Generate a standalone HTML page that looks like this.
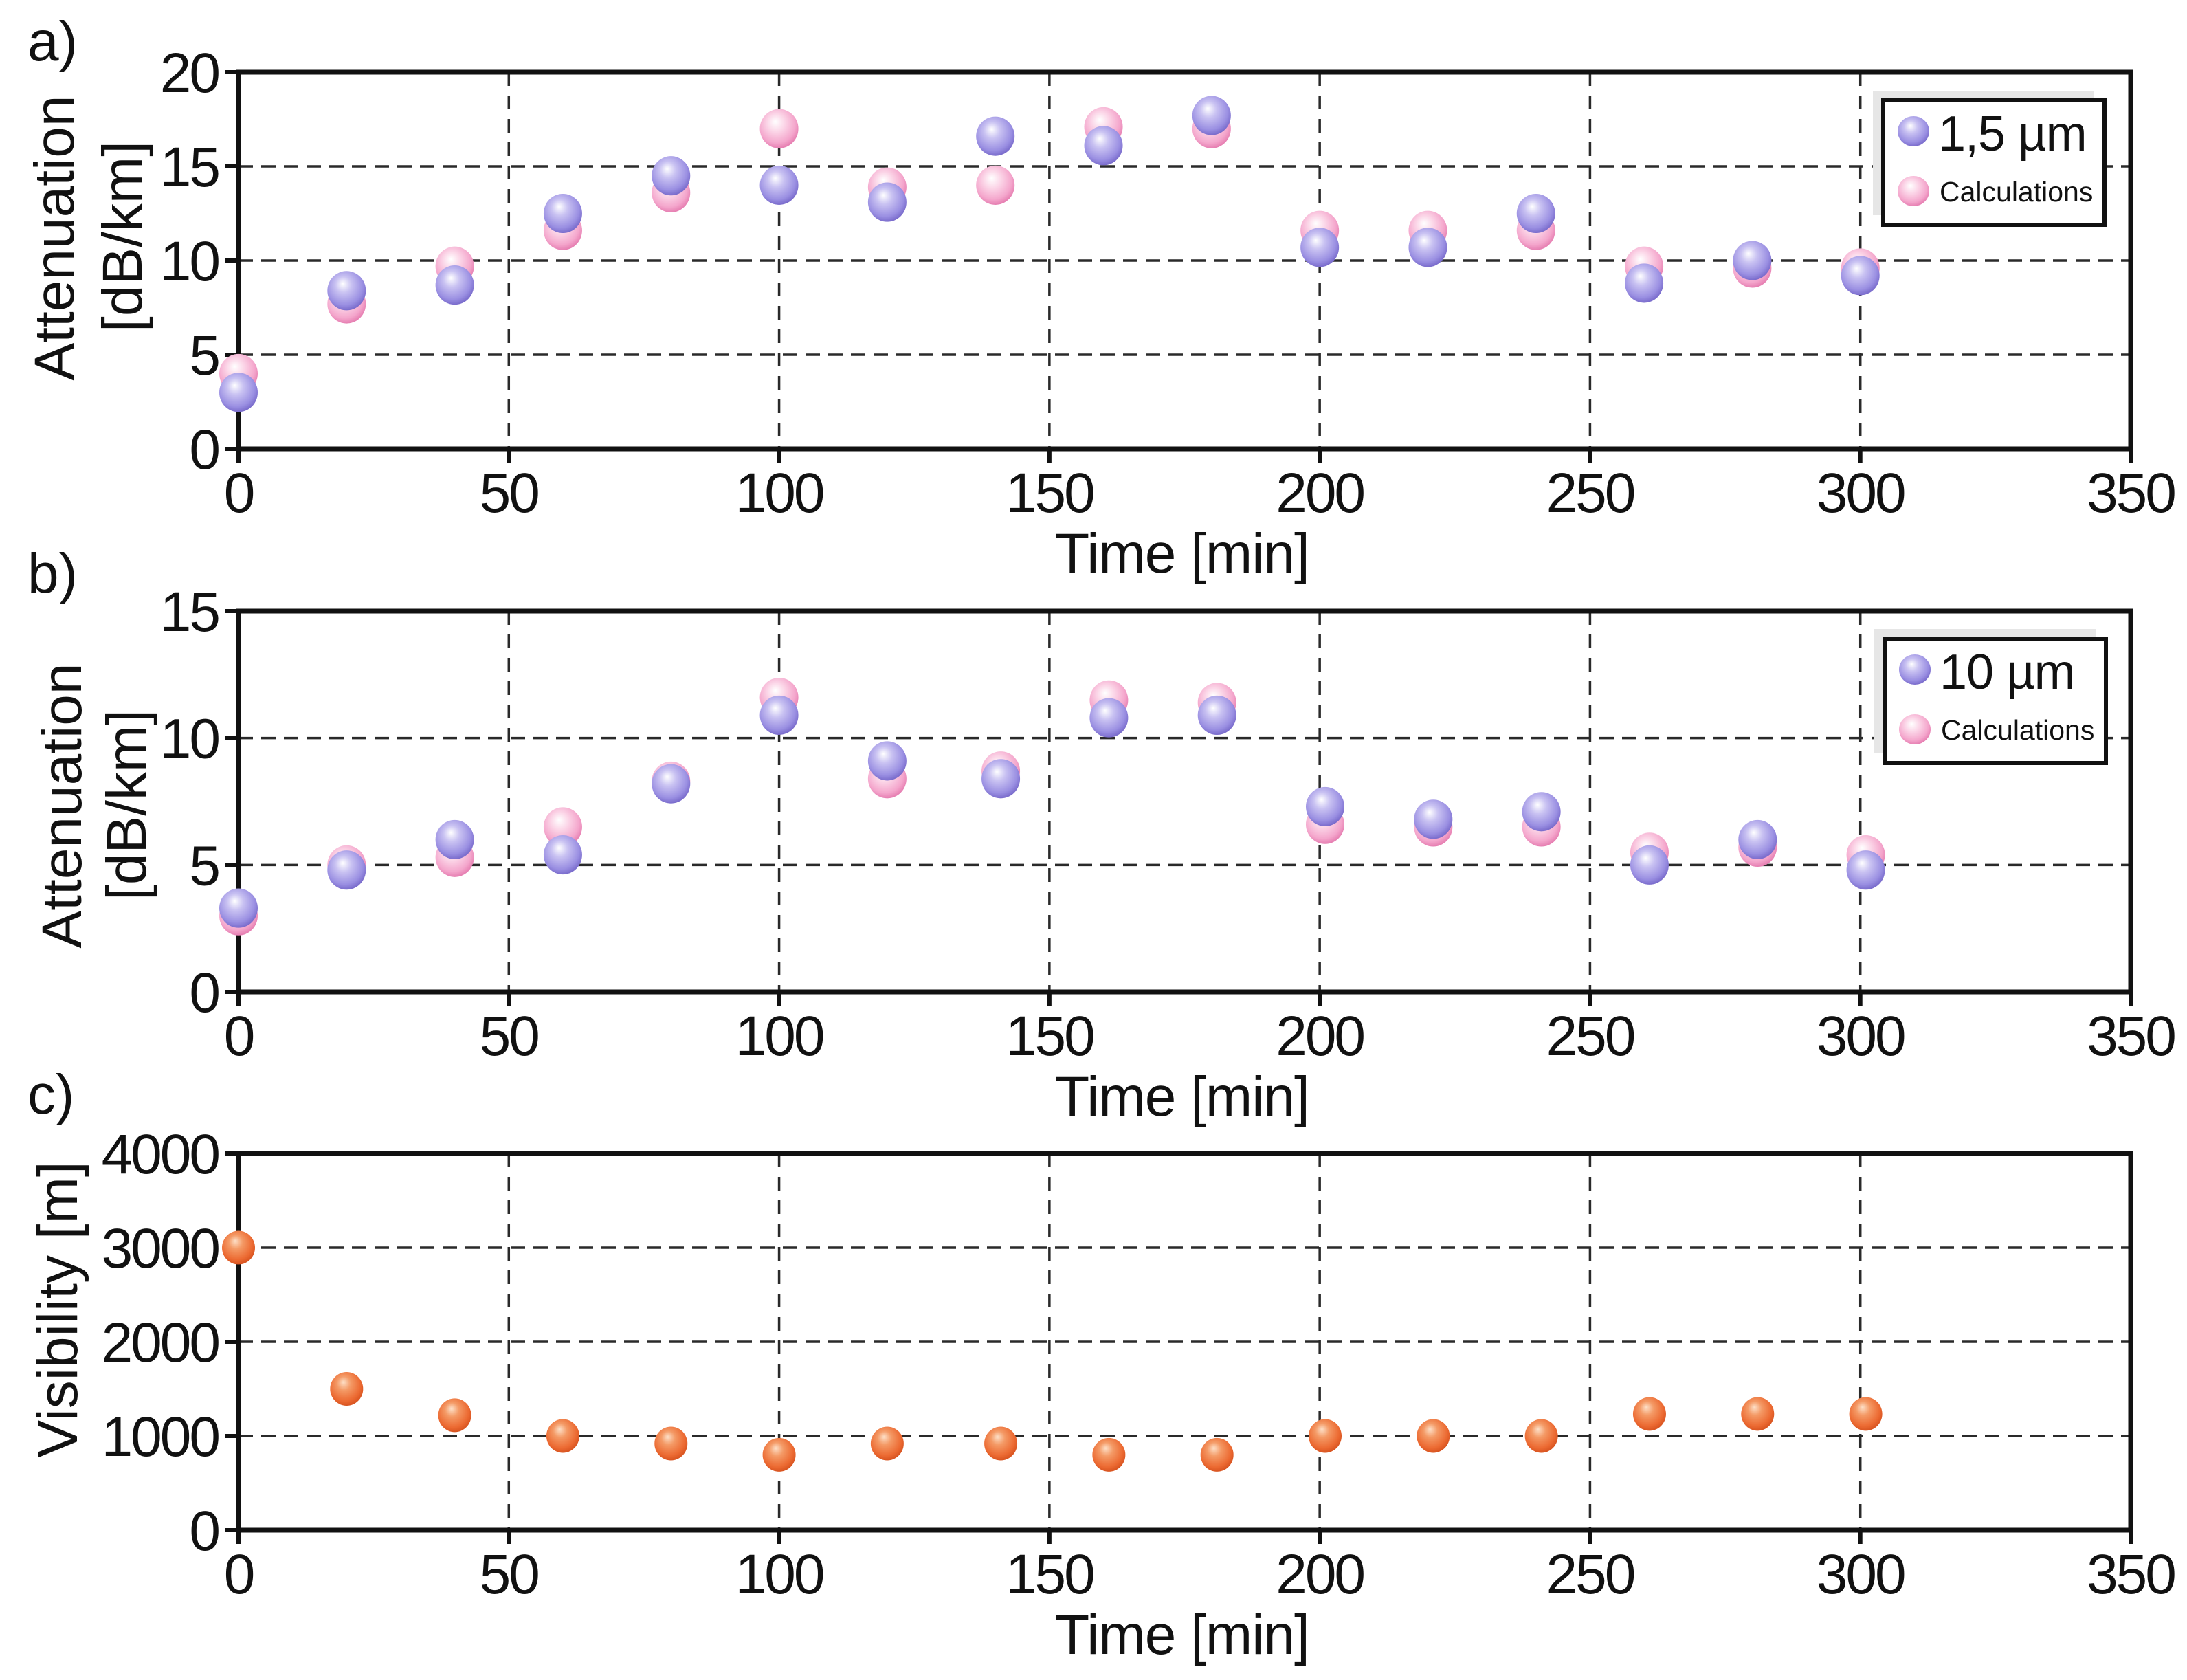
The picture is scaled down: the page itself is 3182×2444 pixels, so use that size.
<!DOCTYPE html>
<html><head><meta charset="utf-8"><style>
html,body{margin:0;padding:0;background:#fff;}
svg{display:block;font-family:"Liberation Sans",Arial,sans-serif;}
</style></head><body>
<svg id="chart" width="3182" height="2444" viewBox="0 0 3182 2444" xmlns="http://www.w3.org/2000/svg">
<defs>
<radialGradient id="gBlue" cx="0.45" cy="0.4" r="0.6" fx="0.4" fy="0.32">
<stop offset="0" stop-color="#ffffff"/><stop offset="0.35" stop-color="#c9c2f2"/><stop offset="0.8" stop-color="#9a8fe2"/><stop offset="1" stop-color="#7a6ccc"/></radialGradient>
<radialGradient id="gPink" cx="0.45" cy="0.4" r="0.6" fx="0.4" fy="0.32">
<stop offset="0" stop-color="#ffffff"/><stop offset="0.4" stop-color="#fbd3e6"/><stop offset="0.8" stop-color="#f4a6cc"/><stop offset="1" stop-color="#e67fb2"/></radialGradient>
<radialGradient id="gOrange" cx="0.45" cy="0.4" r="0.6" fx="0.4" fy="0.3">
<stop offset="0" stop-color="#fde0c8"/><stop offset="0.35" stop-color="#f49a66"/><stop offset="0.8" stop-color="#ec6a32"/><stop offset="1" stop-color="#d85420"/></radialGradient>
</defs>
</svg>
<script>
const timesA = [0,20,40,60,80,100,120,140,160,180,200,220,240,260,280,300];
const blueA  = [3.0,8.4,8.7,12.5,14.5,14.0,13.1,16.6,16.1,17.7,10.7,10.7,12.5,8.8,10.0,9.2];
const pinkA  = [4.0,7.7,9.7,11.6,13.6,17.0,13.9,14.0,17.1,17.0,11.6,11.6,11.6,9.7,9.6,9.6];
const timesB = [0,20,40,60,80,100,120,141,161,181,201,221,241,261,281,301];
const blueB  = [3.3,4.8,6.0,5.4,8.2,10.9,9.1,8.4,10.8,10.9,7.3,6.8,7.1,5.0,6.0,4.8];
const pinkB  = [3.0,5.0,5.3,6.5,8.3,11.6,8.4,8.7,11.5,11.4,6.6,6.5,6.5,5.5,5.7,5.4];
const timesC = [0,20,40,60,80,100,120,141,161,181,201,221,241,261,281,301];
const visC   = [3000,1500,1220,1000,920,800,920,920,800,800,1000,1000,1000,1234,1234,1234];
const xTicks = [0,50,100,150,200,250,300,350];
const yTicksA = [0,5,10,15,20];
const yTicksB = [0,5,10,15];
const yTicksC = [0,1000,2000,3000,4000];

const NS="http://www.w3.org/2000/svg";
const svg=document.getElementById('chart');
const X0=347, X1=3100, XMAX=350;
function xs(v){return X0+(v/XMAX)*(X1-X0);}
function mk(tag,attrs,parent){const e=document.createElementNS(NS,tag);for(const k in attrs)e.setAttribute(k,attrs[k]);(parent||svg).appendChild(e);return e;}

function panel(o){
  const g=mk('g',{});
  
  
  const ys=v=>o.bot-(v/o.ymax)*(o.bot-o.top);
  xTicks.forEach(t=>{ if(t>0&&t<XMAX){const l=mk('line',{x1:xs(t),x2:xs(t),y1:o.top,y2:o.bot,stroke:'#2a2a2a','stroke-width':3.5,'stroke-dasharray':'20 14'},g);
    
    }});
  o.yticks.forEach(t=>{ if(t>0&&t<o.ymax){const l=mk('line',{x1:X0,x2:X1,y1:ys(t),y2:ys(t),stroke:'#2a2a2a','stroke-width':3.5,'stroke-dasharray':'21 12'},g);
    
    }});
  const fr=mk('rect',{x:X0,y:o.top,width:X1-X0,height:o.bot-o.top,fill:'none',stroke:'#111','stroke-width':7},g);
  
  
  xTicks.forEach(t=>{
    mk('line',{x1:xs(t),x2:xs(t),y1:o.bot,y2:o.bot+20,stroke:'#111','stroke-width':6},g);
    const tx=mk('text',{x:xs(t),y:o.bot+92,'font-size':82,'text-anchor':'middle',fill:'#111','letter-spacing':'-3'},g);
    tx.textContent=t;
    
    
  });
  o.yticks.forEach(t=>{
    mk('line',{x1:X0-20,x2:X0,y1:ys(t),y2:ys(t),stroke:'#111','stroke-width':6},g);
    const tx=mk('text',{x:318,y:ys(t)+29,'font-size':82,'text-anchor':'end',fill:'#111','letter-spacing':'-3'},g);
    tx.textContent=t;
    
    
  });
  const xt=mk('text',{x:1720,y:o.bot+180,'font-size':82,'text-anchor':'middle',fill:'#111','letter-spacing':'-1'},g);
  xt.textContent='Time [min]';
  
  
  o.ytitle.forEach(yt=>{
    const t=mk('text',{x:0,y:0,'font-size':82,'text-anchor':'middle',fill:'#111',transform:`translate(${yt.x},${yt.cy}) rotate(-90)`},g);
    t.textContent=yt.text;
    
    
  });
  const pl=mk('text',{x:40,y:o.labelY,'font-size':82,fill:'#111'},g);
  pl.textContent=o.label;
  
  
  o.series.forEach(s=>{
    s.vals.forEach((v,i)=>{
      const c=mk('ellipse',{cx:xs(s.xs[i]),cy:ys(v),rx:s.r,ry:s.r*1.02,fill:s.fill},g);
      
      
    });
  });
  if(o.legend){
    const L=o.legend, lg=mk('g',{},g);
    
    
    mk('rect',{x:L.x-15,y:L.y-14,width:L.w,height:L.h,fill:'#e6e6e6'},lg);
    mk('rect',{x:L.x,y:L.y,width:L.w,height:L.h,fill:'#fff',stroke:'#111','stroke-width':6},lg);
    const m1=mk('ellipse',{cx:L.x+44,cy:L.y+45,rx:23,ry:22,fill:'url(#gBlue)'},lg);
    
    
    const t1=mk('text',{x:L.x+80,y:L.y+73,'font-size':72,fill:'#111','letter-spacing':'-1'},lg);
    t1.textContent=L.text;
    
    
    const m2=mk('ellipse',{cx:L.x+44,cy:L.y+132,rx:23,ry:22,fill:'url(#gPink)'},lg);
    
    
    const t2=mk('text',{x:L.x+82,y:L.y+147,'font-size':41,fill:'#111'},lg);
    t2.textContent='Calculations';
    
    
  }
}

panel({name:'panel-a',top:105,bot:653,ymax:20,yticks:yTicksA,label:'a)',labelY:88,
  ytitle:[{text:'Attenuation',x:107,cy:346},{text:'[dB/km]',x:206,cy:344}],
  series:[{xs:timesA,vals:pinkA,fill:'url(#gPink)',r:28,pname:'point-calculations'},{xs:timesA,vals:blueA,fill:'url(#gBlue)',r:28,pname:'point-1-5um'}],
  legend:{x:2740,y:146,w:322,h:181,text:'1,5 \u00b5m'}});
panel({name:'panel-b',top:889,bot:1443,ymax:15,yticks:yTicksB,label:'b)',labelY:862,
  ytitle:[{text:'Attenuation',x:118,cy:1172},{text:'[dB/km]',x:212,cy:1171}],
  series:[{xs:timesB,vals:pinkB,fill:'url(#gPink)',r:28,pname:'point-calculations'},{xs:timesB,vals:blueB,fill:'url(#gBlue)',r:28,pname:'point-10um'}],
  legend:{x:2742,y:929,w:322,h:181,text:'10 \u00b5m'}});
panel({name:'panel-c',top:1678,bot:2226,ymax:4000,yticks:yTicksC,label:'c)',labelY:1620,
  ytitle:[{text:'Visibility [m]',x:112,cy:1905}],
  series:[{xs:timesC,vals:visC,fill:'url(#gOrange)',r:24,pname:'point-visibility'}]});
</script>
</body></html>
